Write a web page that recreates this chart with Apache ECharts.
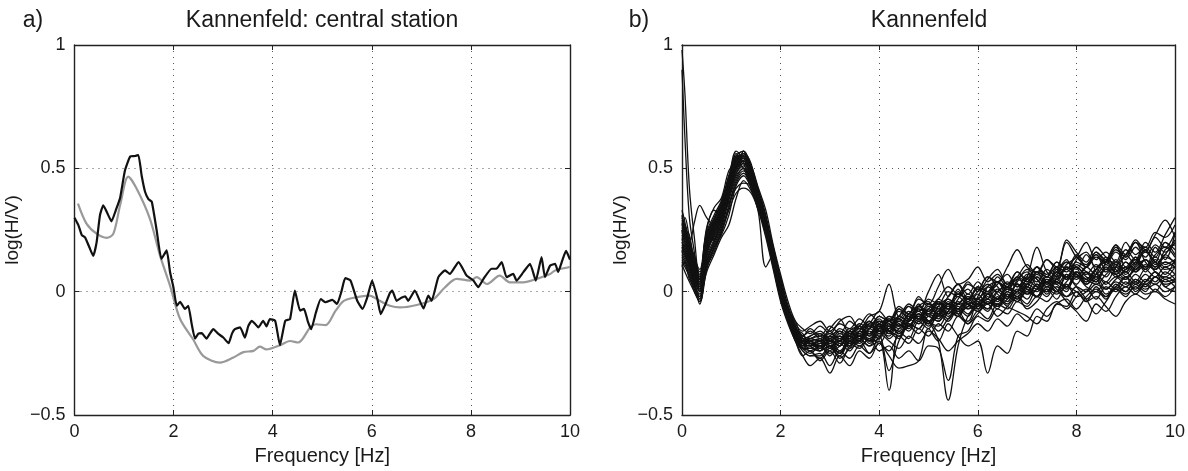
<!DOCTYPE html>
<html>
<head>
<meta charset="utf-8">
<script src="https://cdn.jsdelivr.net/npm/echarts@6/dist/echarts.min.js"></script>
<style>
html,body{margin:0;padding:0;background:#fff;}
#chart{width:1188px;height:471px;}
</style>
</head>
<body>
<div id="chart"></div>
<script>
// ---------- Panel a) : central station ----------
const FREQ_BLACK = [0, 0.078, 0.146, 0.213, 0.30, 0.378, 0.446, 0.514, 0.581, 0.659, 0.746, 0.833, 0.92, 1.017, 1.124, 1.221, 1.289, 1.356, 1.424, 1.492, 1.56, 1.657, 1.754, 1.86, 1.928, 1.996, 2.064, 2.131, 2.228, 2.296, 2.364, 2.432, 2.5, 2.567, 2.664, 2.732, 2.80, 2.897, 3.003, 3.11, 3.178, 3.236, 3.342, 3.439, 3.507, 3.575, 3.643, 3.71, 3.807, 3.875, 3.943, 4.05, 4.146, 4.253, 4.35, 4.447, 4.553, 4.631, 4.708, 4.776, 4.873, 4.97, 5.067, 5.202, 5.299, 5.386, 5.464, 5.57, 5.706, 5.813, 5.909, 6.006, 6.113, 6.18, 6.277, 6.365, 6.413, 6.50, 6.597, 6.675, 6.733, 6.868, 7.043, 7.14, 7.207, 7.343, 7.479, 7.575, 7.75, 7.915, 8.05, 8.147, 8.254, 8.418, 8.515, 8.622, 8.719, 8.854, 8.922, 9.058, 9.193, 9.31, 9.426, 9.494, 9.60, 9.70, 9.76, 9.85, 9.92, 10.0];
const BLACK = [0.30, 0.27, 0.23, 0.22, 0.18, 0.145, 0.2, 0.31, 0.35, 0.32, 0.285, 0.33, 0.38, 0.49, 0.548, 0.55, 0.554, 0.47, 0.405, 0.375, 0.364, 0.25, 0.133, 0.167, 0.08, 0.018, -0.057, -0.041, -0.07, -0.057, -0.13, -0.19, -0.17, -0.168, -0.19, -0.17, -0.152, -0.17, -0.186, -0.209, -0.17, -0.152, -0.145, -0.186, -0.14, -0.118, -0.13, -0.145, -0.118, -0.141, -0.111, -0.118, -0.217, -0.118, -0.111, 0.004, -0.077, -0.07, -0.12, -0.152, -0.084, -0.03, -0.043, -0.033, -0.05, 0.0, 0.055, 0.045, -0.037, -0.07, -0.023, 0.045, -0.03, -0.091, -0.05, -0.005, 0.004, -0.037, -0.025, -0.019, -0.037, 0.004, -0.068, -0.016, -0.037, 0.059, 0.086, 0.072, 0.12, 0.065, 0.045, 0.018, 0.052, 0.093, 0.093, 0.12, 0.059, 0.072, 0.045, 0.079, 0.113, 0.045, 0.14, 0.059, 0.106, 0.113, 0.08, 0.13, 0.165, 0.13];

const FREQ_GRAY = [0.07, 0.242, 0.446, 0.649, 0.785, 0.92, 1.085, 1.25, 1.521, 1.725, 1.928, 2.131, 2.393, 2.596, 2.935, 3.207, 3.41, 3.614, 3.74, 3.875, 4.146, 4.35, 4.514, 4.757, 4.873, 5.067, 5.27, 5.435, 5.677, 5.948, 6.161, 6.365, 6.568, 6.907, 7.246, 7.479, 7.711, 7.983, 8.118, 8.321, 8.583, 8.786, 9.058, 9.329, 9.60, 9.70, 10.0];
const GRAY = [0.357, 0.276, 0.235, 0.218, 0.235, 0.35, 0.466, 0.419, 0.296, 0.147, 0.024, -0.111, -0.193, -0.26, -0.288, -0.267, -0.245, -0.24, -0.223, -0.234, -0.217, -0.2, -0.206, -0.145, -0.132, -0.136, -0.077, -0.037, -0.023, -0.016, -0.037, -0.057, -0.064, -0.054, -0.03, 0.018, 0.052, 0.045, 0.059, 0.031, 0.065, 0.038, 0.038, 0.052, 0.072, 0.086, 0.1];

// ---------- Panel b) : all stations ----------
const FREQ_B = [0, 0.06, 0.15, 0.25, 0.36, 0.5, 0.65, 0.8, 0.95, 1.1, 1.25, 1.4, 1.55, 1.7, 1.85, 2.0, 2.15, 2.3, 2.45, 2.6, 2.8, 3.0, 3.2, 3.4, 3.6, 3.8, 4.0, 4.2, 4.4, 4.6, 4.8, 5.0, 5.2, 5.4, 5.6, 5.8, 6.0, 6.2, 6.4, 6.6, 6.8, 7.0, 7.2, 7.4, 7.6, 7.8, 8.0, 8.2, 8.4, 8.6, 8.8, 9.0, 9.2, 9.4, 9.6, 9.8, 10.0];

const CURVE_01 = [0.98, 0.80, 0.42, 0.22, 0.05, 0.2, 0.26, 0.31, 0.42, 0.51, 0.53, 0.46, 0.37, 0.26, 0.13, 0.0, -0.09, -0.16, -0.2, -0.21, -0.22, -0.2, -0.18, -0.2, -0.16, -0.17, -0.13, -0.15, -0.1, -0.12, -0.07, -0.09, -0.05, -0.07, -0.02, -0.05, -0.03, 0.0, -0.03, 0.02, 0.0, 0.05, 0.02, 0.06, 0.04, 0.1, 0.07, 0.05, 0.09, 0.06, 0.11, 0.08, 0.12, 0.09, 0.13, 0.1, 0.12];
const CURVE_02 = [0.9, 0.62, 0.3, 0.16, 0.0, 0.17, 0.22, 0.29, 0.4, 0.5, 0.55, 0.48, 0.39, 0.28, 0.15, 0.02, -0.08, -0.17, -0.22, -0.2, -0.24, -0.19, -0.22, -0.17, -0.19, -0.14, -0.16, -0.12, -0.14, -0.09, -0.11, -0.06, -0.08, -0.04, -0.07, -0.02, -0.05, -0.03, 0.01, -0.02, 0.03, 0.0, 0.06, 0.03, 0.08, 0.05, 0.1, 0.06, 0.04, 0.09, 0.07, 0.12, 0.08, 0.13, 0.1, 0.15, 0.11];
const CURVE_03 = [0.25, 0.22, 0.2, 0.28, 0.35, 0.3, 0.27, 0.3, 0.36, 0.42, 0.44, 0.43, 0.37, 0.28, 0.17, 0.05, -0.06, -0.14, -0.18, -0.19, -0.17, -0.2, -0.16, -0.18, -0.14, -0.17, -0.13, -0.11, -0.14, -0.09, -0.06, -0.1, -0.04, -0.07, 0.0, -0.04, 0.02, -0.03, 0.04, 0.0, 0.06, 0.02, 0.08, 0.03, 0.07, 0.12, 0.09, 0.15, 0.1, 0.13, 0.08, 0.15, 0.11, 0.17, 0.12, 0.2, 0.15];
const CURVE_04 = [0.18, 0.15, 0.1, 0.04, -0.02, 0.08, 0.15, 0.22, 0.27, 0.38, 0.45, 0.41, 0.34, 0.24, 0.12, -0.02, -0.1, -0.18, -0.23, -0.25, -0.22, -0.26, -0.21, -0.24, -0.19, -0.22, -0.2, -0.4, -0.16, -0.19, -0.12, -0.15, -0.09, -0.12, -0.07, -0.1, -0.05, -0.08, -0.02, -0.05, 0.0, -0.03, 0.03, 0.0, 0.05, 0.02, 0.07, 0.03, 0.06, 0.01, 0.05, 0.08, 0.04, 0.09, 0.06, 0.1, 0.07];
const CURVE_05 = [0.2, 0.17, 0.12, 0.06, 0.01, 0.18, 0.25, 0.32, 0.43, 0.52, 0.54, 0.47, 0.38, 0.27, 0.14, 0.01, -0.09, -0.17, -0.21, -0.22, -0.19, -0.23, -0.18, -0.21, -0.16, -0.18, -0.14, -0.16, -0.11, -0.14, -0.09, -0.12, -0.2, -0.44, -0.22, -0.1, -0.06, -0.03, -0.06, -0.01, -0.04, 0.01, -0.02, 0.04, 0.0, 0.07, 0.03, 0.08, 0.05, 0.1, 0.06, 0.09, 0.13, 0.08, 0.12, 0.09, 0.1];
const CURVE_06 = [0.15, 0.13, 0.09, 0.03, -0.03, 0.12, 0.2, 0.27, 0.38, 0.47, 0.5, 0.44, 0.35, 0.25, 0.11, -0.03, -0.12, -0.19, -0.24, -0.26, -0.25, -0.3, -0.24, -0.27, -0.22, -0.25, -0.21, -0.26, -0.31, -0.3, -0.28, -0.15, -0.2, -0.13, -0.18, -0.22, -0.2, -0.33, -0.22, -0.25, -0.16, -0.18, -0.1, -0.12, -0.05, -0.06, 0.0, -0.04, 0.02, -0.02, 0.03, 0.0, 0.05, 0.02, 0.06, 0.03, 0.04];
const CURVE_07 = [0.22, 0.2, 0.15, 0.08, 0.03, 0.2, 0.27, 0.33, 0.44, 0.53, 0.55, 0.48, 0.38, 0.27, 0.14, 0.0, -0.11, -0.2, -0.26, -0.3, -0.27, -0.33, -0.26, -0.3, -0.24, -0.27, -0.21, -0.24, -0.18, -0.21, -0.15, -0.18, -0.13, -0.16, -0.1, -0.13, -0.08, -0.11, -0.05, -0.07, -0.02, -0.05, 0.01, -0.02, 0.04, 0.01, 0.06, 0.02, 0.0, 0.04, 0.01, 0.06, 0.03, 0.07, 0.04, 0.08, 0.05];
const CURVE_08 = [0.28, 0.25, 0.19, 0.12, 0.06, 0.22, 0.29, 0.35, 0.45, 0.54, 0.56, 0.49, 0.4, 0.3, 0.18, 0.05, -0.06, -0.14, -0.18, -0.15, -0.18, -0.14, -0.17, -0.12, -0.15, -0.1, -0.08, 0.03, -0.1, -0.05, -0.08, 0.0, 0.07, -0.02, 0.03, -0.01, 0.04, 0.0, 0.06, 0.02, 0.08, 0.04, 0.1, 0.06, 0.12, 0.09, 0.15, 0.1, 0.16, 0.12, 0.18, 0.14, 0.2, 0.16, 0.22, 0.18, 0.24];
const CURVE_09 = [0.26, 0.23, 0.17, 0.1, 0.04, 0.19, 0.26, 0.33, 0.44, 0.52, 0.53, 0.46, 0.36, 0.26, 0.13, 0.0, -0.1, -0.17, -0.2, -0.19, -0.2, -0.17, -0.19, -0.15, -0.17, -0.12, -0.14, -0.1, -0.11, -0.06, -0.08, -0.03, -0.05, 0.0, -0.02, 0.03, 0.01, 0.06, 0.04, 0.1, 0.17, 0.1, 0.08, 0.13, 0.1, 0.2, 0.14, 0.11, 0.16, 0.13, 0.19, 0.15, 0.21, 0.17, 0.23, 0.29, 0.22];
const CURVE_10 = [0.12, 0.1, 0.06, 0.0, -0.04, 0.12, 0.19, 0.26, 0.37, 0.46, 0.5, 0.45, 0.36, 0.25, 0.12, -0.01, -0.1, -0.18, -0.21, -0.23, -0.21, -0.24, -0.2, -0.22, -0.18, -0.2, -0.16, -0.18, -0.13, -0.16, -0.11, -0.13, -0.08, -0.11, -0.06, -0.09, -0.04, -0.07, -0.03, -0.06, -0.08, -0.1, -0.13, -0.07, -0.04, -0.07, -0.02, 0.01, -0.03, 0.02, 0.0, 0.04, 0.01, 0.05, 0.03, 0.06, 0.04];
const CURVE_11 = [0.17, 0.15, 0.11, 0.05, 0.0, 0.1, 0.16, 0.24, 0.33, 0.4, 0.42, 0.4, 0.33, 0.24, 0.12, 0.0, -0.09, -0.16, -0.2, -0.21, -0.23, -0.2, -0.22, -0.18, -0.2, -0.15, -0.17, -0.13, -0.15, -0.1, -0.12, -0.08, -0.1, -0.05, -0.07, -0.03, -0.06, -0.02, -0.04, 0.0, -0.02, 0.02, 0.0, 0.04, 0.01, -0.04, -0.08, -0.12, -0.05, -0.08, -0.02, 0.02, -0.01, 0.03, 0.0, 0.05, 0.02];
const CURVE_12 = [0.24, 0.21, 0.16, 0.09, 0.04, 0.2, 0.27, 0.34, 0.45, 0.55, 0.57, 0.5, 0.4, 0.29, 0.16, 0.03, -0.08, -0.16, -0.2, -0.2, -0.19, -0.22, -0.2, -0.16, -0.19, -0.15, -0.12, -0.13, -0.17, -0.11, -0.07, -0.09, -0.06, -0.1, -0.05, -0.02, -0.04, -0.07, 0.0, 0.02, -0.02, 0.03, 0.06, 0.02, 0.05, 0.1, 0.07, 0.04, 0.09, 0.13, 0.11, 0.08, 0.14, 0.1, 0.15, 0.18, 0.14];
const CURVE_13 = [0.3, 0.27, 0.2, 0.12, 0.07, 0.24, 0.31, 0.37, 0.47, 0.55, 0.55, 0.48, 0.39, 0.29, 0.17, 0.04, -0.07, -0.15, -0.19, -0.21, -0.23, -0.19, -0.18, -0.22, -0.16, -0.12, -0.17, -0.15, -0.11, -0.14, -0.09, -0.12, -0.1, -0.05, -0.08, -0.06, -0.01, -0.05, -0.03, 0.02, 0.03, -0.01, 0.01, 0.06, 0.04, 0.02, 0.08, 0.05, 0.09, 0.12, 0.07, 0.05, 0.1, 0.13, 0.09, 0.12, 0.1];
const CURVE_14 = [0.14, 0.12, 0.08, 0.02, -0.02, 0.14, 0.21, 0.28, 0.39, 0.48, 0.51, 0.45, 0.36, 0.26, 0.13, 0.0, -0.1, -0.18, -0.22, -0.22, -0.2, -0.23, -0.19, -0.21, -0.17, -0.19, -0.15, -0.17, -0.12, -0.14, -0.1, -0.12, -0.07, -0.09, -0.05, -0.07, -0.03, -0.05, 0.0, -0.03, 0.01, -0.01, 0.03, 0.0, 0.02, -0.02, 0.0, -0.04, -0.02, -0.06, -0.1, -0.04, -0.01, -0.03, 0.01, -0.02, 0.02];
const CURVE_15 = [0.21, 0.19, 0.14, 0.07, 0.02, 0.17, 0.24, 0.31, 0.42, 0.51, 0.54, 0.48, 0.38, 0.28, 0.15, 0.02, -0.09, -0.17, -0.21, -0.21, -0.2, -0.18, -0.2, -0.17, -0.18, -0.13, -0.15, -0.11, -0.12, -0.08, -0.1, -0.05, -0.07, -0.03, -0.05, -0.01, -0.03, 0.02, 0.0, 0.04, 0.02, 0.06, 0.04, 0.09, 0.06, 0.11, 0.14, 0.2, 0.13, 0.16, 0.12, 0.2, 0.15, 0.18, 0.14, 0.2, 0.17];
const CURVE_16 = [0.19, 0.17, 0.12, 0.05, 0.0, 0.15, 0.23, 0.3, 0.41, 0.5, 0.52, 0.47, 0.37, 0.27, 0.14, 0.01, -0.09, -0.17, -0.21, -0.24, -0.22, -0.25, -0.22, -0.19, -0.21, -0.17, -0.19, -0.14, -0.17, -0.13, -0.15, -0.1, -0.12, -0.08, -0.1, -0.06, -0.08, -0.04, -0.06, -0.02, -0.04, 0.0, -0.02, 0.02, 0.0, 0.04, 0.08, 0.04, 0.07, 0.03, 0.06, 0.03, 0.07, 0.04, 0.08, 0.05, 0.07];
const CURVE_17 = [0.27, 0.24, 0.18, 0.11, 0.05, 0.21, 0.28, 0.34, 0.44, 0.53, 0.56, 0.49, 0.39, 0.28, 0.15, 0.02, -0.09, -0.16, -0.19, -0.18, -0.16, -0.19, -0.15, -0.17, -0.13, -0.15, -0.1, -0.12, -0.07, -0.09, -0.03, -0.05, 0.02, 0.09, 0.03, 0.05, 0.1, 0.04, 0.07, 0.03, 0.08, 0.05, 0.1, 0.07, 0.12, 0.09, 0.14, 0.1, 0.15, 0.11, 0.16, 0.13, 0.18, 0.14, 0.19, 0.16, 0.2];
const CURVE_18 = [0.16, 0.14, 0.1, 0.03, -0.01, 0.13, 0.2, 0.28, 0.38, 0.48, 0.52, 0.46, 0.37, 0.26, 0.13, -0.01, -0.11, -0.19, -0.23, -0.24, -0.27, -0.23, -0.26, -0.21, -0.23, -0.19, -0.21, -0.16, -0.18, -0.13, -0.15, -0.1, -0.12, -0.07, -0.09, -0.04, -0.06, -0.01, -0.03, 0.02, 0.0, 0.06, 0.18, 0.08, 0.05, 0.09, 0.06, 0.1, 0.07, 0.11, 0.08, 0.12, 0.09, 0.13, 0.1, 0.14, 0.12];
const CURVE_19 = [0.23, 0.2, 0.15, 0.08, 0.02, 0.18, 0.25, 0.32, 0.43, 0.52, 0.55, 0.5, 0.4, 0.3, 0.17, 0.03, -0.08, -0.15, -0.19, -0.2, -0.21, -0.21, -0.25, -0.2, -0.18, -0.2, -0.14, -0.19, -0.15, -0.12, -0.08, -0.12, -0.14, -0.08, -0.04, -0.07, -0.05, -0.01, -0.06, -0.03, 0.03, 0.01, -0.02, 0.05, 0.03, 0.0, 0.08, 0.05, 0.03, 0.07, 0.1, 0.06, 0.09, 0.13, 0.08, 0.06, 0.1];
const CURVE_20 = [0.2, 0.18, 0.13, 0.07, 0.02, 0.19, 0.26, 0.33, 0.44, 0.52, 0.5, 0.42, 0.32, 0.1, 0.15, 0.02, -0.08, -0.16, -0.2, -0.21, -0.22, -0.18, -0.2, -0.16, -0.18, -0.14, -0.16, -0.12, -0.14, -0.1, -0.11, -0.07, -0.09, -0.05, -0.07, -0.04, -0.06, -0.01, -0.03, 0.01, -0.01, 0.03, 0.01, 0.05, 0.03, 0.07, 0.05, 0.08, 0.06, 0.09, 0.07, 0.1, 0.08, 0.11, 0.09, 0.12, 0.1];
const CURVE_21 = [0.13, 0.11, 0.07, 0.01, -0.03, 0.11, 0.18, 0.25, 0.35, 0.45, 0.49, 0.44, 0.35, 0.25, 0.12, -0.02, -0.12, -0.19, -0.23, -0.23, -0.24, -0.22, -0.25, -0.2, -0.22, -0.19, -0.24, -0.22, -0.27, -0.24, -0.28, -0.22, -0.23, -0.36, -0.18, -0.16, -0.1, -0.12, -0.07, -0.09, -0.04, -0.06, -0.02, -0.04, 0.0, -0.02, 0.02, 0.0, 0.03, 0.01, 0.04, 0.02, 0.05, 0.03, 0.06, 0.04, 0.05];
const CURVE_22 = [0.25, 0.22, 0.17, 0.1, 0.05, 0.21, 0.28, 0.34, 0.45, 0.54, 0.55, 0.49, 0.39, 0.28, 0.16, 0.03, -0.08, -0.16, -0.2, -0.19, -0.18, -0.21, -0.17, -0.19, -0.15, -0.17, -0.12, -0.14, -0.1, -0.12, -0.06, -0.08, -0.04, -0.06, -0.01, -0.03, 0.01, -0.01, 0.04, 0.02, 0.06, 0.04, 0.08, 0.06, 0.1, 0.08, 0.12, 0.1, 0.14, 0.12, 0.17, 0.14, 0.2, 0.18, 0.24, 0.22, 0.27];
const CURVE_23 = [0.29, 0.26, 0.2, 0.13, 0.08, 0.23, 0.3, 0.36, 0.46, 0.55, 0.57, 0.51, 0.41, 0.3, 0.17, 0.04, -0.06, -0.13, -0.16, -0.14, -0.12, -0.16, -0.13, -0.15, -0.11, -0.14, -0.1, -0.12, -0.08, -0.1, -0.06, -0.08, -0.03, -0.05, -0.01, -0.03, 0.02, 0.0, 0.04, 0.01, 0.05, 0.03, 0.07, 0.04, 0.08, 0.06, 0.1, 0.07, 0.11, 0.08, 0.12, 0.09, 0.13, 0.1, 0.14, 0.11, 0.13];
const CURVE_24 = [0.18, 0.16, 0.11, 0.05, 0.0, 0.16, 0.23, 0.3, 0.41, 0.5, 0.53, 0.47, 0.37, 0.27, 0.14, 0.01, -0.09, -0.17, -0.21, -0.22, -0.21, -0.19, -0.22, -0.18, -0.2, -0.16, -0.18, -0.14, -0.16, -0.11, -0.13, -0.09, -0.11, -0.06, -0.08, -0.05, -0.07, -0.03, -0.05, -0.01, -0.03, 0.0, -0.02, 0.01, -0.01, 0.02, 0.0, -0.03, 0.0, -0.02, 0.01, -0.01, 0.02, -0.01, 0.0, -0.03, -0.05];
const CURVE_25 = [0.21, 0.24, 0.14, 0.1, 0.03, 0.22, 0.21, 0.35, 0.41, 0.56, 0.52, 0.44, 0.4, 0.26, 0.16, 0.04, -0.1, -0.14, -0.22, -0.18, -0.17, -0.22, -0.25, -0.16, -0.14, -0.2, -0.19, -0.1, -0.13, -0.15, -0.06, -0.04, -0.1, -0.08, 0.01, -0.05, -0.07, 0.02, 0.04, -0.02, 0.0, 0.07, 0.05, -0.01, 0.06, 0.12, 0.1, 0.03, 0.07, 0.14, 0.09, 0.05, 0.11, 0.16, 0.12, 0.07, 0.13];
const CURVE_26 = [0.33, 0.28, 0.18, 0.15, 0.06, 0.25, 0.33, 0.31, 0.47, 0.5, 0.57, 0.47, 0.41, 0.31, 0.14, 0.06, -0.09, -0.15, -0.17, -0.22, -0.24, -0.18, -0.16, -0.23, -0.2, -0.15, -0.11, -0.16, -0.19, -0.12, -0.09, -0.13, -0.06, -0.03, -0.09, -0.12, -0.02, 0.03, -0.01, -0.04, 0.05, 0.08, 0.02, 0.0, 0.09, 0.05, 0.13, 0.16, 0.08, 0.04, 0.1, 0.15, 0.2, 0.12, 0.09, 0.17, 0.19];
const CURVE_27 = [0.1, 0.12, 0.05, 0.02, -0.05, 0.09, 0.18, 0.23, 0.31, 0.43, 0.47, 0.42, 0.33, 0.22, 0.09, -0.04, -0.13, -0.2, -0.26, -0.24, -0.28, -0.24, -0.29, -0.22, -0.2, -0.25, -0.18, -0.32, -0.2, -0.14, -0.17, -0.12, -0.16, -0.11, -0.08, -0.13, -0.09, -0.05, -0.1, -0.06, -0.02, -0.07, -0.04, 0.01, -0.03, 0.03, -0.02, 0.0, 0.05, -0.01, 0.02, 0.06, 0.0, 0.04, 0.08, 0.02, 0.05];
const CURVE_28 = [0.27, 0.3, 0.22, 0.14, 0.09, 0.26, 0.34, 0.38, 0.49, 0.53, 0.54, 0.51, 0.42, 0.33, 0.19, 0.07, -0.04, -0.12, -0.15, -0.17, -0.14, -0.17, -0.12, -0.1, -0.15, -0.13, -0.08, -0.12, -0.06, -0.09, -0.02, -0.06, -0.03, 0.02, -0.01, 0.04, 0.0, 0.05, 0.09, 0.03, 0.06, 0.11, 0.07, 0.13, 0.09, 0.21, 0.16, 0.12, 0.18, 0.14, 0.11, 0.17, 0.13, 0.2, 0.16, 0.23, 0.3];
const CURVE_29 = [0.16, 0.19, 0.13, 0.06, 0.01, 0.15, 0.24, 0.29, 0.4, 0.49, 0.53, 0.45, 0.38, 0.25, 0.13, 0.0, -0.11, -0.17, -0.23, -0.2, -0.23, -0.2, -0.24, -0.19, -0.17, -0.21, -0.15, -0.12, -0.17, -0.14, -0.1, -0.14, -0.09, -0.06, -0.1, -0.05, -0.08, -0.04, -0.07, 0.0, -0.03, 0.02, -0.02, 0.04, 0.0, 0.06, 0.02, -0.03, -0.09, -0.04, 0.01, -0.02, 0.03, 0.0, 0.06, 0.02, 0.0];
const CURVE_30 = [0.31, 0.25, 0.23, 0.11, 0.05, 0.23, 0.29, 0.36, 0.46, 0.57, 0.54, 0.5, 0.4, 0.29, 0.18, 0.05, -0.07, -0.14, -0.21, -0.19, -0.2, -0.16, -0.21, -0.18, -0.14, -0.18, -0.13, -0.17, -0.1, -0.06, -0.11, -0.07, -0.04, -0.09, -0.03, 0.01, -0.04, -0.01, 0.03, 0.07, 0.02, 0.05, 0.1, 0.04, 0.08, 0.13, 0.06, 0.1, 0.15, 0.09, 0.13, 0.07, 0.12, 0.17, 0.11, 0.15, 0.21];
const CURVE_31 = [0.11, 0.08, 0.04, 0.0, -0.04, 0.1, 0.17, 0.24, 0.34, 0.44, 0.48, 0.43, 0.34, 0.23, 0.1, -0.03, -0.12, -0.2, -0.24, -0.26, -0.26, -0.22, -0.27, -0.23, -0.19, -0.22, -0.17, -0.2, -0.23, -0.18, -0.21, -0.16, -0.19, -0.24, -0.2, -0.17, -0.13, -0.16, -0.11, -0.14, -0.09, -0.12, -0.07, -0.1, -0.05, -0.03, -0.07, -0.02, 0.01, -0.03, 0.02, 0.0, 0.04, 0.01, 0.03, 0.0, 0.02];
const CURVE_32 = [0.24, 0.27, 0.19, 0.08, 0.04, 0.2, 0.28, 0.32, 0.43, 0.54, 0.56, 0.52, 0.39, 0.3, 0.15, 0.03, -0.07, -0.12, -0.18, -0.16, -0.19, -0.15, -0.11, -0.17, -0.14, -0.09, -0.13, -0.16, -0.07, -0.11, -0.05, -0.1, -0.08, -0.02, 0.03, -0.03, 0.0, 0.06, 0.02, -0.02, 0.04, 0.09, 0.05, 0.02, 0.1, 0.06, 0.11, 0.08, 0.04, 0.12, 0.19, 0.1, 0.14, 0.09, 0.18, 0.13, 0.24];

const CURVES_B = [CURVE_01, CURVE_02, CURVE_03, CURVE_04, CURVE_05, CURVE_06, CURVE_07, CURVE_08, CURVE_09, CURVE_10, CURVE_11, CURVE_12, CURVE_13, CURVE_14, CURVE_15, CURVE_16, CURVE_17, CURVE_18, CURVE_19, CURVE_20, CURVE_21, CURVE_22, CURVE_23, CURVE_24, CURVE_25, CURVE_26, CURVE_27, CURVE_28, CURVE_29, CURVE_30, CURVE_31, CURVE_32];

const X_TICKS = [0, 2, 4, 6, 8, 10];
const Y_TICKS = [-0.5, 0, 0.5, 1];

// ---------- chart ----------
const FONT = '"Liberation Sans", Arial, Helvetica, sans-serif';
const TXT = '#1a1a1a';
const chart = echarts.init(document.getElementById('chart'), null, {renderer: 'canvas'});

const zip = (xs, ys) => xs.map((x, i) => [x, ys[i]]);
const fmtY = v => (v < 0 ? '\u2212' + Math.abs(v) : String(v));

function xAxes(gi) {
  const base = {
    gridIndex: gi, type: 'value', min: X_TICKS[0], max: X_TICKS[X_TICKS.length - 1], interval: 2,
    axisLine: {show: true, onZero: false, lineStyle: {color: '#222', width: 1.4}},
    axisTick: {show: true, inside: true, length: 5, lineStyle: {color: '#222', width: 1}}
  };
  return [
    Object.assign({}, base, {
      position: 'bottom',
      axisLabel: {show: true, color: TXT, fontSize: 18, fontFamily: FONT, margin: 8},
      splitLine: {show: true, lineStyle: {color: '#555', width: 1, type: [1, 5]}},
      name: 'Frequency [Hz]', nameLocation: 'middle', nameGap: 31,
      nameTextStyle: {color: TXT, fontSize: 20, fontFamily: FONT}
    }),
    Object.assign({}, base, {
      position: 'top', axisLabel: {show: false}, splitLine: {show: false}
    })
  ];
}
function yAxes(gi) {
  const base = {
    gridIndex: gi, type: 'value', min: Y_TICKS[0], max: Y_TICKS[Y_TICKS.length - 1], interval: 0.5,
    axisLine: {show: true, onZero: false, lineStyle: {color: '#222', width: 1.4}},
    axisTick: {show: true, inside: true, length: 5, lineStyle: {color: '#222', width: 1}}
  };
  return [
    Object.assign({}, base, {
      position: 'left',
      axisLabel: {show: true, color: TXT, fontSize: 18, fontFamily: FONT, margin: 9, formatter: fmtY},
      splitLine: {show: true, lineStyle: {color: '#555', width: 1, type: [1, 5]}},
      name: 'log(H/V)', nameLocation: 'middle', nameGap: 52,
      nameTextStyle: {color: TXT, fontSize: 19, fontFamily: FONT}
    }),
    Object.assign({}, base, {
      position: 'right', axisLabel: {show: false}, splitLine: {show: false}
    })
  ];
}

const series = [
  {
    type: 'line', xAxisIndex: 0, yAxisIndex: 0, data: zip(FREQ_GRAY, GRAY),
    showSymbol: false, smooth: 0.3, lineStyle: {color: '#999', width: 2.2}, z: 3
  },
  {
    type: 'line', xAxisIndex: 0, yAxisIndex: 0, data: zip(FREQ_BLACK, BLACK),
    showSymbol: false, smooth: 0.15, lineStyle: {color: '#111', width: 2.2}, z: 4
  }
];
CURVES_B.forEach(c => {
  series.push({
    type: 'line', xAxisIndex: 2, yAxisIndex: 2, data: zip(FREQ_B, c),
    showSymbol: false, smooth: 0.35, lineStyle: {color: '#111', width: 1.3}, z: 3
  });
});

const option = {
  animation: false,
  backgroundColor: '#fff',
  textStyle: {fontFamily: FONT},
  grid: [
    {left: 74.5, top: 45, width: 495.5, height: 371.5, containLabel: false},
    {left: 682, top: 45, width: 494, height: 371.5, containLabel: false}
  ],
  xAxis: xAxes(0).concat(xAxes(1)),
  yAxis: yAxes(0).concat(yAxes(1)),
  series: series,
  graphic: [
    {type: 'text', x: 33, y: 21, style: {text: 'a)', fontSize: 23, fontFamily: FONT, fill: TXT, textAlign: 'center', textVerticalAlign: 'middle'}},
    {type: 'text', x: 322, y: 21, style: {text: 'Kannenfeld: central station', fontSize: 23, fontFamily: FONT, fill: TXT, textAlign: 'center', textVerticalAlign: 'middle'}},
    {type: 'text', x: 639, y: 21, style: {text: 'b)', fontSize: 23, fontFamily: FONT, fill: TXT, textAlign: 'center', textVerticalAlign: 'middle'}},
    {type: 'text', x: 929, y: 21, style: {text: 'Kannenfeld', fontSize: 23, fontFamily: FONT, fill: TXT, textAlign: 'center', textVerticalAlign: 'middle'}}
  ]
};
chart.setOption(option);
</script>
</body>
</html>
